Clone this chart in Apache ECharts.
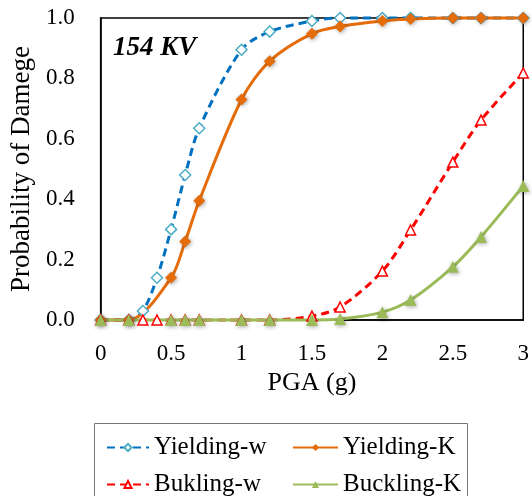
<!DOCTYPE html>
<html>
<head>
<meta charset="utf-8">
<script src="https://cdn.jsdelivr.net/npm/echarts@6/dist/echarts.min.js"></script>
<style>
  html, body { margin: 0; padding: 0; background: #fff; }
  #chart { width: 532px; height: 496px; }
</style>
</head>
<body>
<div id="chart"></div>
<script>
// PGA values (g) for the two sampling sets
const pgaW = [0, 0.2, 0.3, 0.4, 0.5, 0.6, 0.7, 1, 1.2, 1.5, 1.7, 2, 2.2, 2.5, 2.7, 3]
const pgaK = [0, 0.2, 0.5, 0.6, 0.7, 1, 1.2, 1.5, 1.7, 2, 2.2, 2.5, 2.7, 3]

const yieldingW = [0, 0, 0.03, 0.14, 0.30, 0.48, 0.635, 0.895, 0.955, 0.99, 1, 1, 1, 1, 1, 1]
const yieldingK = [0, 0, 0.14, 0.26, 0.395, 0.73, 0.857, 0.948, 0.972, 0.99, 0.997, 1, 1, 1]
const buklingW = [0, 0, 0, 0, 0, 0, 0, 0, 0, 0.013, 0.043, 0.162, 0.298, 0.523, 0.662, 0.818]
const bucklingK = [0, 0, 0, 0, 0, 0, 0, 0, 0.003, 0.026, 0.066, 0.176, 0.275, 0.444]

const yTicks = [0, 0.2, 0.4, 0.6, 0.8, 1.0]

const font = '"Liberation Serif", "Times New Roman", serif'
const pair = (xs, ys) => xs.map((x, i) => [x, ys[i]])

const chart = echarts.init(document.getElementById('chart'))

const shadow = { shadowBlur: 4, shadowColor: 'rgba(0,0,0,0.35)', shadowOffsetX: 1, shadowOffsetY: 1 }
const legendText = { fontFamily: font, fontSize: 25, color: '#000' }

chart.setOption({
  animation: false,
  textStyle: { fontFamily: font },
  grid: { left: 99, right: 6, top: 18, bottom: 176, show: true, borderColor: '#000', borderWidth: 1.5 },
  xAxis: {
    type: 'value', min: 0, max: 3, interval: 0.5,
    name: 'PGA (g)', nameLocation: 'middle', nameGap: 46,
    nameTextStyle: { fontFamily: font, fontSize: 26, color: '#000' },
    axisLine: { show: true, lineStyle: { color: '#000', width: 1.5 } },
    axisTick: { show: false },
    splitLine: { show: false },
    axisLabel: { fontFamily: font, fontSize: 23, color: '#000', margin: 22 }
  },
  yAxis: {
    type: 'value', min: 0, max: 1, interval: 0.2,
    name: 'Probability of Damege', nameLocation: 'middle', nameGap: 62,
    nameTextStyle: { fontFamily: font, fontSize: 27, color: '#000' },
    axisLine: { show: true, lineStyle: { color: '#000', width: 1.5 } },
    axisTick: { show: false },
    splitLine: { show: false },
    axisLabel: {
      fontFamily: font, fontSize: 23, color: '#000', margin: 26,
      formatter: v => yTicks.some(t => Math.abs(t - v) < 1e-9) ? v.toFixed(1) : ''
    }
  },
  legend: [
    {
      data: ['Yielding-w', 'Bukling-w'], orient: 'vertical', left: 106, top: 435, height: 120,
      itemWidth: 42, itemHeight: 9, itemGap: 12, padding: 0,
      textStyle: legendText
    },
    {
      data: ['Yielding-K', 'Buckling-K'], orient: 'vertical', left: 292, top: 435, height: 120,
      itemWidth: 45, itemHeight: 9, itemGap: 12, padding: 0,
      textStyle: legendText
    }
  ],
  graphic: [
    {
      type: 'rect', left: 94, top: 423, z: -1,
      shape: { width: 373, height: 80 },
      style: { fill: '#fff', stroke: '#777', lineWidth: 1 }
    },
    {
      type: 'text', left: 113, top: 35,
      style: { text: '154 KV', font: 'italic bold 27px "Liberation Serif", serif', fill: '#000' }
    }
  ],
  series: [
    {
      name: 'Yielding-w', type: 'line', data: pair(pgaW, yieldingW),
      smooth: 0.3, clip: false,
      symbol: 'diamond', symbolSize: 11,
      lineStyle: { color: '#0070c0', width: 3, type: [8, 5] },
      itemStyle: { color: '#fff', borderColor: '#4bacc6', borderWidth: 1.5 }
    },
    {
      name: 'Yielding-K', type: 'line', data: pair(pgaK, yieldingK),
      smooth: 0.3, clip: false,
      symbol: 'diamond', symbolSize: 12,
      lineStyle: { color: '#e46c0a', width: 3 },
      itemStyle: Object.assign({ color: '#e46c0a' }, shadow)
    },
    {
      name: 'Bukling-w', type: 'line', data: pair(pgaW, buklingW),
      smooth: 0.3, clip: false,
      symbol: 'triangle', symbolSize: 10,
      lineStyle: { color: '#ff0000', width: 3, type: [8, 5] },
      itemStyle: { color: '#fff', borderColor: '#ff0000', borderWidth: 1.5 }
    },
    {
      name: 'Buckling-K', type: 'line', data: pair(pgaK, bucklingK),
      smooth: 0.3, clip: false,
      symbol: 'triangle', symbolSize: 12,
      lineStyle: { color: '#9bbb59', width: 3 },
      itemStyle: Object.assign({ color: '#9bbb59' }, shadow)
    }
  ]
})

window.addEventListener('resize', () => chart.resize())
</script>
</body>
</html>
